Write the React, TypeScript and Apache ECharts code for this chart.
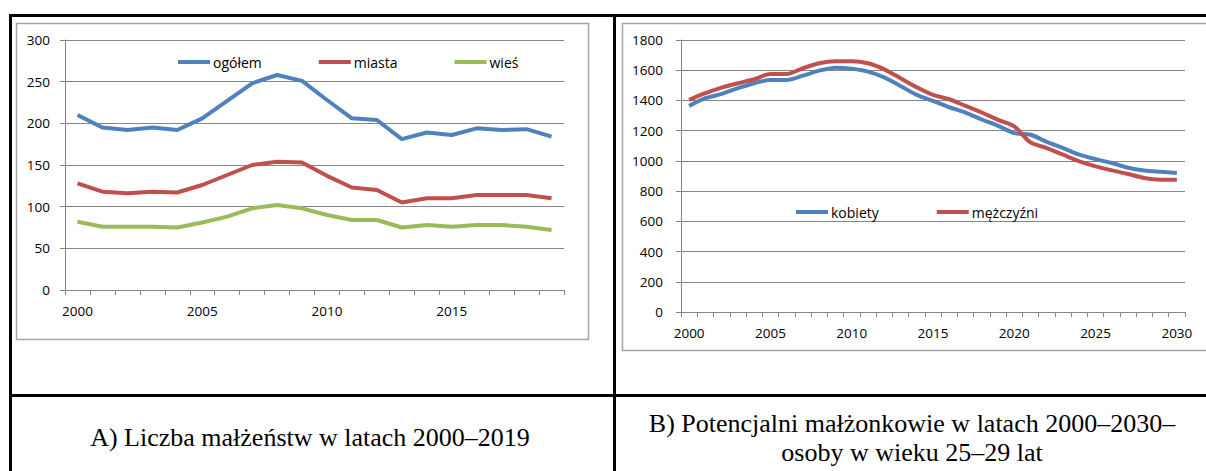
import React, { useEffect, useRef } from "react";
import * as echarts from "echarts";

const yearsA = ["2000","2001","2002","2003","2004","2005","2006","2007","2008","2009","2010","2011","2012","2013","2014","2015","2016","2017","2018","2019"];
const ogolem = [210, 195, 192, 195, 192, 206, 227, 248, 258, 251, 228, 206, 204, 181, 189, 186, 194, 192, 193, 184];
const miasta = [128, 118, 116, 118, 117, 126, 138, 150, 154, 153, 137, 123, 120, 105, 110, 110, 114, 114, 114, 110];
const wies = [82, 76, 76, 76, 75, 81, 88, 98, 102, 98, 90, 84, 84, 75, 78, 76, 78, 78, 76, 72];

const yearsB = ["2000","2001","2002","2003","2004","2005","2006","2007","2008","2009","2010","2011","2012","2013","2014","2015","2016","2017","2018","2019","2020","2021","2022","2023","2024","2025","2026","2027","2028","2029","2030"];
const kobiety = [1364, 1415, 1443, 1481, 1514, 1536, 1536, 1564, 1597, 1617, 1610, 1591, 1553, 1496, 1437, 1397, 1355, 1320, 1274, 1232, 1184, 1173, 1126, 1085, 1041, 1012, 986, 955, 937, 928, 920];
const mezczyzni = [1404, 1448, 1485, 1514, 1540, 1575, 1575, 1613, 1646, 1659, 1659, 1646, 1606, 1547, 1487, 1437, 1408, 1364, 1320, 1272, 1228, 1122, 1085, 1041, 997, 964, 937, 913, 887, 876, 876];

const captionA = "A) Liczba małżeństw w latach 2000–2019";
const captionB1 = "B) Potencjalni małżonkowie w latach 2000–2030–";
const captionB2 = "osoby w wieku 25–29 lat";

const BLUE = "#4F81BD";
const RED = "#C0504D";
const GREEN = "#9BBB59";
const GRID = "#868686";
const FONT = "Open Sans";

export default function App() {
  const ref = useRef<HTMLDivElement>(null);
  useEffect(() => {
    if (!ref.current) return;
    const chart = echarts.init(ref.current, undefined, { renderer: "svg" });
    const axisLabel = { fontFamily: FONT, fontSize: 13.5, color: "#000" };
    const xAxisBase = (gridIndex: number, data: string[]) => ({
      type: "category" as const,
      gridIndex,
      data,
      boundaryGap: true,
      axisLine: { show: true, lineStyle: { color: GRID, width: 1 } },
      axisTick: { show: true, interval: 0, length: 5, lineStyle: { color: GRID } },
      axisLabel: { ...axisLabel, interval: 4, margin: 14 },
      splitLine: { show: false },
    });
    const yAxisBase = (gridIndex: number, max: number, interval: number, margin: number) => ({
      type: "value" as const,
      gridIndex,
      min: 0,
      max,
      interval,
      axisLine: { show: true, lineStyle: { color: GRID, width: 1 } },
      axisTick: { show: true, length: 5, lineStyle: { color: GRID } },
      axisLabel: { ...axisLabel, margin, formatter: (v: number) => String(v) },
      splitLine: { show: true, lineStyle: { color: GRID, width: 1 } },
    });
    const lineSeries = (name: string, data: number[], color: string, xi: number, smooth: boolean | number) => ({
      name,
      type: "line" as const,
      xAxisIndex: xi,
      yAxisIndex: xi,
      data,
      smooth,
      showSymbol: false,
      symbol: "none",
      color,
      lineStyle: { color, width: 4 },
      itemStyle: { color },
    });
    const legendBase = {
      icon: "rect",
      itemWidth: 32,
      itemHeight: 4,
      padding: 0,
      textStyle: { fontFamily: FONT, fontSize: 14, color: "#000", padding: [0, 0, 0, -2] },
    };
    const black = { stroke: "#000", lineWidth: 3 };
    const cap = { fontFamily: "Liberation Serif", fontSize: 26, fill: "#000", textAlign: "center", textVerticalAlign: "middle" };
    chart.setOption({
      animation: false,
      backgroundColor: "#fff",
      grid: [
        { left: 65, top: 40, width: 499, height: 250 },
        { left: 681, top: 40, width: 504, height: 272 },
      ],
      xAxis: [xAxisBase(0, yearsA), xAxisBase(1, yearsB)],
      yAxis: [yAxisBase(0, 300, 50, 15), yAxisBase(1, 1800, 200, 18)],
      legend: [
        { ...legendBase, data: ["ogółem", "miasta", "wieś"], left: 178, top: 55, itemGap: 57 },
        { ...legendBase, data: ["kobiety", "mężczyźni"], left: 796, top: 205, itemGap: 58 },
      ],
      series: [
        lineSeries("ogółem", ogolem, BLUE, 0, false),
        lineSeries("miasta", miasta, RED, 0, false),
        lineSeries("wieś", wies, GREEN, 0, false),
        lineSeries("kobiety", kobiety, BLUE, 1, 0.3),
        lineSeries("mężczyźni", mezczyzni, RED, 1, 0.3),
      ],
      graphic: [
        { type: "rect", shape: { x: 16.5, y: 23.5, width: 572, height: 316 }, style: { fill: "none", stroke: "#a6a6a6", lineWidth: 1.5 }, silent: true },
        { type: "rect", shape: { x: 622.5, y: 23.5, width: 600, height: 327 }, style: { fill: "none", stroke: "#a6a6a6", lineWidth: 1.5 }, silent: true },
        { type: "line", shape: { x1: 9, y1: 15.5, x2: 1206, y2: 15.5 }, style: black, silent: true },
        { type: "line", shape: { x1: 10.5, y1: 14, x2: 10.5, y2: 471 }, style: black, silent: true },
        { type: "line", shape: { x1: 614.5, y1: 14, x2: 614.5, y2: 471 }, style: black, silent: true },
        { type: "line", shape: { x1: 9, y1: 395.5, x2: 1206, y2: 395.5 }, style: black, silent: true },
        { type: "text", x: 310, y: 437, style: { ...cap, text: captionA }, silent: true },
        { type: "text", x: 912, y: 423, style: { ...cap, text: captionB1 }, silent: true },
        { type: "text", x: 912, y: 452, style: { ...cap, text: captionB2 }, silent: true },
      ],
    });
    return () => chart.dispose();
  }, []);
  return <div ref={ref} style={{ position: "fixed", left: 0, top: 0, width: 1206, height: 471 }} />;
}
